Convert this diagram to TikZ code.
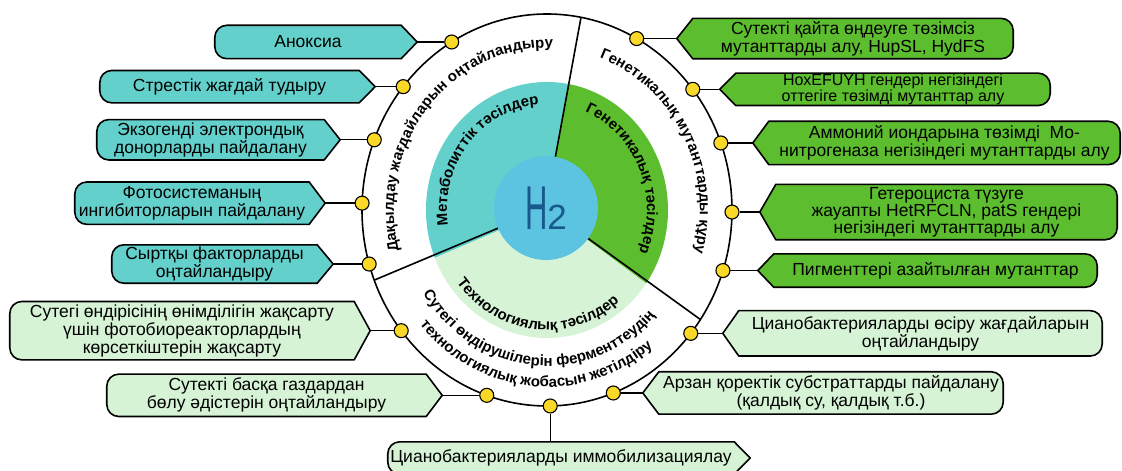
\documentclass[tikz,border=0pt]{standalone}
\usepackage{fontspec}
\setmainfont{Liberation Sans}
\usetikzlibrary{decorations.text,backgrounds}
\definecolor{tealbox}{RGB}{99,208,203}
\definecolor{greenbox}{RGB}{92,190,46}
\definecolor{lightbox}{RGB}{214,243,214}
\definecolor{dotyellow}{RGB}{250,216,40}
\definecolor{hblue}{RGB}{92,195,224}
\definecolor{htext}{RGB}{24,88,140}

\tikzset{
  tagline/.style={line width=1.6pt,line join=round},
  tagtext/.style={inner sep=0pt,align=center,font=\fontsize{17.5}{18}\selectfont},
  link/.style={line width=1.4pt},
  dot/.style={circle,draw,line width=1.1pt,fill=dotyellow,minimum size=14pt,inner sep=0pt},
  ringtext/.style={decorate,decoration={text along path,text align=center,text={#1}}}
}

% rounded at the left, pointed to the right
\newcommand{\tagtoright}[2]{%
  \draw[tagline,fill=#2] ([xshift=12pt]#1.south west)
    arc[start angle=270,end angle=180,radius=12pt]
    -- ([yshift=-12pt]#1.north west)
    arc[start angle=180,end angle=90,radius=12pt]
    -- (#1.north east) -- ([xshift=16pt]#1.east) -- (#1.south east) -- cycle;}
% pointed to the left, rounded at the right
\newcommand{\tagtoleft}[2]{%
  \draw[tagline,fill=#2] ([xshift=-12pt]#1.north east)
    arc[start angle=90,end angle=0,radius=12pt]
    -- ([yshift=12pt]#1.south east)
    arc[start angle=0,end angle=-90,radius=12pt]
    -- (#1.south west) -- ([xshift=-16pt]#1.west) -- (#1.north west) -- cycle;}

\begin{document}
\begin{tikzpicture}[x=1pt,y=1pt]
  \useasboundingbox (-547,-261) rectangle (575,210);

  % inner disk
  \fill[tealbox] (0,0) -- ({121*cos(80)},{128*sin(80)})
    arc[start angle=80,end angle=202,x radius=121,y radius=128] -- cycle;
  \fill[greenbox] (0,0) -- ({121*cos(-35)},{128*sin(-35)})
    arc[start angle=-35,end angle=80,x radius=121,y radius=128] -- cycle;
  \fill[lightbox] (0,0) -- ({121*cos(202)},{128*sin(202)})
    arc[start angle=202,end angle=325,x radius=121,y radius=128] -- cycle;

  % outer ring
  \draw[tagline] (0,0) ellipse [x radius=185,y radius=196];
  \node[circle,fill=hblue,minimum size=104pt,inner sep=0pt,text=htext] (h2) at (-1,2)
    {\scalebox{0.5}[1]{\fontsize{62}{62}\selectfont H}{\fontsize{35}{35}\selectfont 2}};
  \coordinate (o1) at (34,192.6);
  \coordinate (o2) at (-172.7,-70.1);
  \coordinate (o3) at (153.4,-109.5);
  \draw[tagline] (h2) -- (o1);
  \draw[tagline] (h2) -- (o2);
  \draw[tagline] (h2) -- (o3);

  % ring labels
  \path[ringtext={|\bfseries\fontsize{15}{15}\selectfont|Дақылдау жағдайларын оңтайландыру}]
    ({153*cos(202)},{162*sin(202)}) arc[start angle=202,end angle=80,x radius=153,y radius=162];
  \path[ringtext={|\bfseries\fontsize{15}{15}\selectfont|Генетикалық мутанттарды құру}]
    ({153*cos(80)},{162*sin(80)}) arc[start angle=80,end angle=-25,x radius=153,y radius=162];
  \path[ringtext={|\bfseries\fontsize{15}{15}\selectfont|Сутегі өндірушілерін ферменттеудің}]
    ({147*cos(202)},{156*sin(202)}) arc[start angle=202,end angle=328,x radius=147,y radius=156];
  \path[ringtext={|\bfseries\fontsize{15}{15}\selectfont|технологиялық жобасын жетілдіру}]
    ({167*cos(202)},{177*sin(202)}) arc[start angle=202,end angle=328,x radius=167,y radius=177];
  \path[ringtext={|\bfseries\fontsize{15}{15}\selectfont|Метаболиттік тәсілдер}]
    ({100*cos(202)},{106*sin(202)}) arc[start angle=202,end angle=80,x radius=100,y radius=106];
  \path[ringtext={|\bfseries\fontsize{15}{15}\selectfont|Генетикалық тәсілдер}]
    ({100*cos(80)},{106*sin(80)}) arc[start angle=80,end angle=-35,x radius=100,y radius=106];
  \path[ringtext={|\bfseries\fontsize{15}{15}\selectfont|Технологиялық тәсілдер}]
    ({113*cos(202)},{120*sin(202)}) arc[start angle=202,end angle=325,x radius=113,y radius=120];

  % dots on the ring
  \node[dot] (d1) at ({185*cos(121)},{196*sin(121)}) {};
  \node[dot] (d2) at ({185*cos(141)},{196*sin(141)}) {};
  \node[dot] (d3) at ({185*cos(159)},{196*sin(159)}) {};
  \node[dot] (d4) at ({185*cos(178)},{196*sin(178)}) {};
  \node[dot] (d5) at ({185*cos(196)},{196*sin(196)}) {};
  \node[dot] (d6) at ({185*cos(218)},{196*sin(218)}) {};
  \node[dot] (d7) at ({185*cos(251)},{196*sin(251)}) {};
  \node[dot] (d8) at ({185*cos(271)},{196*sin(271)}) {};
  \node[dot] (d9) at ({185*cos(291)},{196*sin(291)}) {};
  \node[dot] (d10) at ({185*cos(321)},{196*sin(321)}) {};
  \node[dot] (d11) at ({185*cos(61)},{196*sin(61)}) {};
  \node[dot] (d12) at ({185*cos(38)},{196*sin(38)}) {};
  \node[dot] (d13) at ({185*cos(20)},{196*sin(20)}) {};
  \node[dot] (d14) at ({185*cos(-0.6)},{196*sin(-0.6)}) {};
  \node[dot] (d15) at ({185*cos(-18)},{196*sin(-18)}) {};

  % boxes on the left
  \node[tagtext,minimum width=186pt,minimum height=33pt] (b1) at (-239,0 |- d1) {Аноксиа};
  \node[tagtext,minimum width=259pt,minimum height=32pt] (b2) at (-317.5,0 |- d2) {Стрестік жағдай тудыру};
  \node[tagtext,minimum width=227pt,minimum height=40pt] (b3) at (-336.5,0 |- d3) {Экзогенді электрондық\\донорларды пайдалану};
  \node[tagtext,minimum width=234pt,minimum height=42pt] (b4) at (-355,0 |- d4) {Фотосистеманың\\ингибиторларын пайдалану};
  \node[tagtext,minimum width=205pt,minimum height=38pt] (b5) at (-332.5,0 |- d5) {Сыртқы факторларды\\оңтайландыру};
  \node[tagtext,minimum width=344pt,minimum height=58pt] (b6) at (-365,0 |- d6) {Сутегі өндірісінің өнімділігін жақсарту\\үшін фотобиореакторлардың\\көрсеткіштерін жақсарту};
  \node[tagtext,minimum width=319pt,minimum height=42pt] (b7) at (-280.5,0 |- d7) {Сутекті басқа газдардан\\бөлу әдістерін оңтайландыру};
  \node[tagtext,minimum width=346pt,minimum height=32pt] (b8) at (14,-248) {Цианобактерияларды иммобилизациялау};

  % boxes on the right
  \node[tagtext,minimum width=344pt,minimum height=42pt] (b9) at (284,0 |- d9) {Арзан қоректік субстраттарды пайдалану\\(қалдық су, қалдық т.б.)};
  \node[tagtext,minimum width=363pt,minimum height=45pt] (b10) at (373.5,0 |- d10) {Цианобактерияларды өсіру жағдайларын\\оңтайландыру};
  \node[tagtext,minimum width=320pt,minimum height=40pt] (b11) at (306,0 |- d11) {Сутекті қайта өңдеуге төзімсіз\\мутанттарды алу, HupSL, HydFS};
  \node[tagtext,minimum width=314pt,minimum height=32pt,font=\fontsize{16}{14}\selectfont] (b12) at (346,0 |- d12) {HoxEFUYH гендері негізіндегі\\оттегіге төзімді мутанттар алу};
  \node[tagtext,minimum width=351pt,minimum height=43pt] (b13) at (397.5,0 |- d13) {Аммоний иондарына төзімді~ Мо-\\нитрогеназа негізіндегі мутанттарды алу};
  \node[tagtext,minimum width=341pt,minimum height=55pt,font=\fontsize{17.5}{17}\selectfont] (b14) at (399.5,0 |- d14) {Гетероциста түзуге\\жауапты HetRFCLN, patS гендері\\негізіндегі мутанттарды алу};
  \node[tagtext,minimum width=323pt,minimum height=33pt] (b15) at (388.5,0 |- d15) {Пигменттері азайтылған мутанттар};

  \begin{scope}[on background layer]
    \tagtoright{b1}{tealbox}
    \tagtoright{b2}{tealbox}
    \tagtoright{b3}{tealbox}
    \tagtoright{b4}{tealbox}
    \tagtoright{b5}{tealbox}
    \tagtoright{b6}{lightbox}
    \tagtoright{b7}{lightbox}
    \tagtoright{b8}{lightbox}
    \tagtoleft{b9}{lightbox}
    \tagtoleft{b10}{lightbox}
    \tagtoleft{b11}{greenbox}
    \tagtoleft{b12}{greenbox}
    \tagtoleft{b13}{greenbox}
    \tagtoleft{b14}{greenbox}
    \tagtoleft{b15}{greenbox}
  \end{scope}

  % links
  \foreach \i in {1,...,7}
    \draw[link] (d\i) -- ([xshift=16pt]b\i.east);
  \draw[link] (d8) -- (d8 |- b8.north);
  \foreach \i in {9,...,15}
    \draw[link] (d\i) -- ([xshift=-16pt]b\i.west);
\end{tikzpicture}
\end{document}
